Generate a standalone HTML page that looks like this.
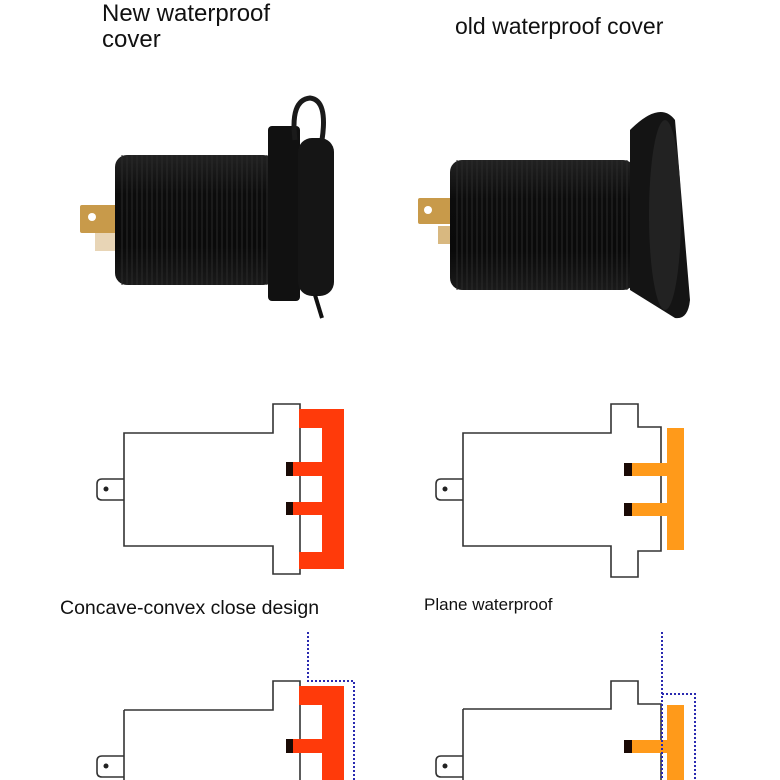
<!DOCTYPE html>
<html><head><meta charset="utf-8"><style>
body{margin:0;background:#fff;width:780px;height:780px;overflow:hidden;font-family:"Liberation Sans",sans-serif}
.t{position:absolute;color:#111;white-space:nowrap}
</style></head><body>
<div class="t" style="left:102px;top:1px;font-size:24px;line-height:26px">New waterproof<br>cover</div>
<div class="t" style="left:455px;top:13px;font-size:23px">old waterproof cover</div>
<div class="t" style="left:60px;top:597px;font-size:19.5px">Concave-convex close design</div>
<div class="t" style="left:424px;top:595px;font-size:17px">Plane waterproof</div>
<svg width="780" height="780" style="position:absolute;left:0;top:0">
<defs>
<linearGradient id="cyl" x1="0" y1="0" x2="0" y2="1">
<stop offset="0" stop-color="#222"/><stop offset="0.3" stop-color="#0c0c0c"/><stop offset="0.7" stop-color="#0a0a0a"/><stop offset="1" stop-color="#1a1a1a"/></linearGradient>
<pattern id="thr" width="5" height="10" patternUnits="userSpaceOnUse"><line x1="2" y1="0" x2="2" y2="10" stroke="#2a2a2a" stroke-width="1"/></pattern>
</defs>
<rect x="80" y="205" width="50" height="28" rx="2" fill="#c89a4a"/>
<circle cx="92" cy="217" r="4" fill="#fff"/>
<rect x="95" y="233" width="20" height="18" fill="#d8b985" opacity=".6"/>
<rect x="115" y="155" width="160" height="130" rx="12" fill="url(#cyl)"/>
<rect x="120" y="155" width="150" height="130" fill="url(#thr)"/>
<rect x="268" y="126" width="32" height="175" rx="4" fill="#111"/>
<rect x="298" y="138" width="36" height="158" rx="14" fill="#151515"/>
<path d="M295 140 Q290 100 310 98 Q328 100 322 140" fill="none" stroke="#1a1a1a" stroke-width="5"/>
<path d="M315 295 L322 318" stroke="#111" stroke-width="4"/>
<rect x="418" y="198" width="35" height="26" rx="2" fill="#c89a4a"/>
<circle cx="428" cy="210" r="4" fill="#fff"/>
<rect x="438" y="226" width="12" height="18" fill="#c89a4a" opacity=".7"/>
<rect x="450" y="160" width="185" height="130" rx="12" fill="url(#cyl)"/>
<rect x="455" y="160" width="175" height="130" fill="url(#thr)"/>
<path d="M630 130 Q660 100 675 120 L690 300 Q688 320 675 318 L630 290 Z" fill="#141414"/>
<ellipse cx="665" cy="215" rx="16" ry="95" fill="#222"/>
<g fill="none" stroke="#333" stroke-width="1.6">
<path d="M124 433 H273 V404 H300 V574 H273 V546 H124 Z"/>
<path d="M124 479 H102 Q97 479 97 484 V495 Q97 500 102 500 H124"/>
<path d="M463 433 H611 V404 H638 V427 H661 V551 H638 V577 H611 V546 H463 Z"/>
<path d="M463 479 H441 Q436 479 436 484 V495 Q436 500 441 500 H463"/>
<path d="M124 710 H273 V681 H300 V790"/>
<path d="M124 710 V790"/>
<path d="M124 756 H102 Q97 756 97 761 V772 Q97 777 102 777 H124"/>
<path d="M463 709 H611 V681 H638 V704 H661 V790"/>
<path d="M463 709 V790"/>
<path d="M463 756 H441 Q436 756 436 761 V772 Q436 777 441 777 H463"/>
</g>
<g fill="#222"><circle cx="106" cy="489" r="2.5"/><circle cx="445" cy="489" r="2.5"/><circle cx="106" cy="766" r="2.5"/><circle cx="445" cy="766" r="2.5"/></g>
<g fill="#ff3a0a">
<path d="M299 409 H344 V569 H299 V552 H322 V515 H292 V502 H322 V476 H292 V462 H322 V428 H299 Z"/>
<path d="M299 686 H344 V790 H322 V753 H292 V739 H322 V705 H299 Z"/>
</g>
<g fill="#1a0a05"><rect x="286" y="462" width="7" height="14"/><rect x="286" y="502" width="7" height="13"/><rect x="286" y="739" width="7" height="14"/></g>
<g fill="#ff9a1a">
<rect x="667" y="428" width="17" height="122"/>
<rect x="632" y="463" width="35" height="13"/><rect x="632" y="503" width="35" height="13"/>
<rect x="667" y="705" width="17" height="80"/>
<rect x="632" y="740" width="35" height="13"/>
</g>
<g fill="#1a0a05"><rect x="624" y="463" width="8" height="13"/><rect x="624" y="503" width="8" height="13"/><rect x="624" y="740" width="8" height="13"/></g>
<g fill="none" stroke="#2a2ab0" stroke-width="2" stroke-dasharray="2 2">
<path d="M308 632 V681 H354 V790"/>
<path d="M662 632 V790"/>
<path d="M662 694 H695 V790"/>
</g>
</svg>
</body></html>
